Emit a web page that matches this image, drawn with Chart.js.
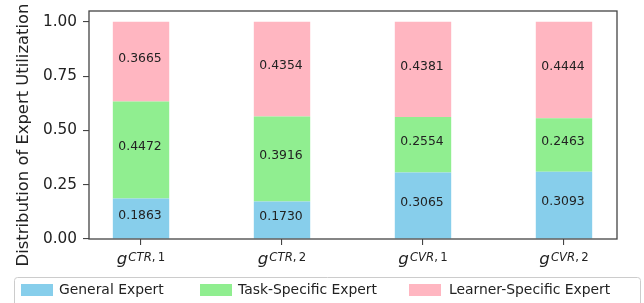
<!DOCTYPE html>
<html><head><meta charset="utf-8">
<script src="https://cdn.jsdelivr.net/npm/chart.js@4"></script>
<style>html,body{margin:0;padding:0;background:#fff;overflow:hidden}</style>
</head><body>
<canvas id="c" width="644" height="303"></canvas>
<script>
// ---- data ----
const categories = ['g^{CTR,1}', 'g^{CTR,2}', 'g^{CVR,1}', 'g^{CVR,2}'];
const tickSupLetters = ['CTR', 'CTR', 'CVR', 'CVR'];
const tickSupIndex = ['1', '2', '1', '2'];
const seriesNames = ['General Expert', 'Task-Specific Expert', 'Learner-Specific Expert'];
const generalExpert = [0.1863, 0.1730, 0.3065, 0.3093];
const taskSpecificExpert = [0.4472, 0.3916, 0.2554, 0.2463];
const learnerSpecificExpert = [0.3665, 0.4354, 0.4381, 0.4444];
const yTicks = [0, 0.25, 0.5, 0.75, 1.0];
const yTitle = 'Distribution of Expert Utilization';

const colors = ['#87CEEB', '#90EE90', '#FFB6C1'];
const FONT = '"DejaVu Sans", "Liberation Sans", sans-serif';
const INK = '#222';
const SPINE = '#444';

const allSeries = [generalExpert, taskSpecificExpert, learnerSpecificExpert];
const datasets = allSeries.map((vals, s) => ({
  label: seriesNames[s],
  data: vals.map((v, i) => ({x: i, y: v})),
  backgroundColor: colors[s],
  borderWidth: 0,
  barPercentage: 0.4,
  categoryPercentage: 1.0
}));

const overlay = {
  id: 'overlay',
  afterDraw(chart) {
    const ctx = chart.ctx;
    const a = chart.chartArea;
    const xs = chart.scales.x;
    ctx.save();
    // frame
    ctx.strokeStyle = SPINE;
    ctx.lineWidth = 1.3;
    ctx.strokeRect(a.left, a.top, a.right - a.left, a.bottom - a.top);

    // bar value labels
    ctx.fillStyle = INK;
    ctx.font = '12.4px ' + FONT;
    ctx.textAlign = 'center';
    ctx.textBaseline = 'middle';
    chart.data.datasets.forEach((ds, d) => {
      const meta = chart.getDatasetMeta(d);
      meta.data.forEach((el, i) => {
        const v = allSeries[d][i];
        ctx.fillText(v.toFixed(4), el.x - 1, (el.y + el.base) / 2 - 3);
      });
    });

    // x tick labels: italic g with superscript
    ctx.textAlign = 'left';
    ctx.textBaseline = 'alphabetic';
    categories.forEach((c, i) => {
      const px = xs.getPixelForValue(i);
      const fBase = 'italic 16.7px ' + FONT;
      const fSupI = 'italic 11.7px ' + FONT;
      const fSup = '11.7px ' + FONT;
      ctx.font = fBase; const wg = ctx.measureText('g').width;
      ctx.font = fSupI; const wl = ctx.measureText(tickSupLetters[i]).width;
      ctx.font = fSup; const wr = ctx.measureText(',\u2009' + tickSupIndex[i]).width;
      const total = wg + 1 + wl + wr;
      let x = px - total / 2;
      ctx.font = fBase; ctx.fillText('g', x, 264); x += wg + 1;
      ctx.font = fSupI; ctx.fillText(tickSupLetters[i], x, 261); x += wl;
      ctx.font = fSup; ctx.fillText(',\u2009' + tickSupIndex[i], x, 261);
    });

    // y axis title
    ctx.save();
    ctx.translate(27.5, 135);
    ctx.rotate(-Math.PI / 2);
    ctx.font = '16.4px ' + FONT;
    ctx.textAlign = 'center';
    ctx.textBaseline = 'alphabetic';
    ctx.fillText(yTitle, 0, 0);
    ctx.restore();

    // legend
    ctx.fillStyle = 'rgba(255,255,255,0.8)';
    ctx.strokeStyle = '#cccccc';
    ctx.lineWidth = 1;
    ctx.beginPath();
    ctx.roundRect(14.5, 277.5, 626, 40, 3);
    ctx.fill();
    ctx.stroke();
    const swX = [21, 200, 409];
    const txX = [59, 238, 449];
    ctx.font = '13.9px ' + FONT;
    ctx.textBaseline = 'middle';
    ctx.textAlign = 'left';
    seriesNames.forEach((n, s) => {
      ctx.fillStyle = colors[s];
      ctx.fillRect(swX[s], 284, 32, 12);
      ctx.fillStyle = INK;
      ctx.fillText(n, txX[s], 290.5);
    });
    ctx.restore();
  }
};

new Chart(document.getElementById('c'), {
  type: 'bar',
  data: { datasets },
  plugins: [overlay],
  options: {
    responsive: false,
    animation: false,
    devicePixelRatio: 1,
    layout: { padding: { left: 0, right: 27, top: 11, bottom: 0 } },
    plugins: { legend: { display: false }, tooltip: { enabled: false } },
    scales: {
      x: {
        type: 'linear',
        stacked: true,
        offset: false,
        min: -0.369,
        max: 3.376,
        afterBuildTicks: s => { s.ticks = categories.map((c, i) => ({value: i})); },
        afterFit: s => { s.height = 64; s.paddingLeft = 0; s.paddingRight = 0; },
        ticks: { display: false },
        grid: { offset: false, drawOnChartArea: false, drawTicks: true, tickLength: 6, color: SPINE, lineWidth: 1.1 },
        border: { display: false }
      },
      y: {
        stacked: true,
        min: 0,
        max: 1.05,
        afterBuildTicks: s => { s.ticks = yTicks.map(v => ({value: v})); },
        afterFit: s => { s.width = 89; s.paddingTop = 0; s.paddingBottom = 0; },
        ticks: {
          padding: 6,
          color: INK,
          font: { family: FONT, size: 15.3 },
          callback: v => Number(v).toFixed(2)
        },
        grid: { drawOnChartArea: false, drawTicks: true, tickLength: 6, color: SPINE, lineWidth: 1.1 },
        border: { display: false }
      }
    }
  }
});
</script>
</body></html>
